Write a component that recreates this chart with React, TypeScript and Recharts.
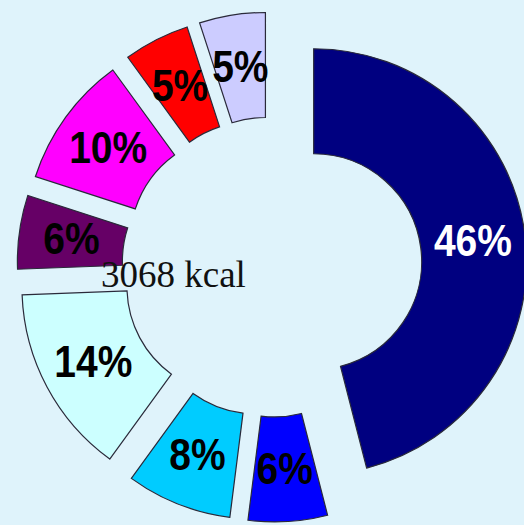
import React from 'react';
import { PieChart, Pie, Cell } from 'recharts';

const categories = ['Segment 1', 'Segment 2', 'Segment 3', 'Segment 4', 'Segment 5', 'Segment 6', 'Segment 7', 'Segment 8'];
const values = [46, 6, 8, 14.4, 5.6, 10, 5, 5];
const colors = ['#000080', '#0000ff', '#00ccff', '#ccffff', '#660066', '#ff00ff', '#ff0000', '#ccccff'];
const labelColors = ['#ffffff', '#000000', '#000000', '#000000', '#000000', '#000000', '#000000', '#000000'];
const centerText = '3068 kcal';

const W = 524;
const H = 525;
const CX = 272;
const CY = 267;
const EXPLODE = 42;
const INNER = 108;
const OUTER = 213;
const RAD = Math.PI / 180;

const data = categories.map((name, i) => ({ name, value: values[i] }));
const total = values.reduce((a, b) => a + b, 0);
const midAngles: number[] = [];
{
  let cum = 0;
  values.forEach((v) => {
    midAngles.push(90 - (360 * (cum + v / 2)) / total);
    cum += v;
  });
}

const makeLabel = (i: number) => (p: any) => {
  if (p.index !== i) return null;
  const r = (p.innerRadius + p.outerRadius) / 2;
  const x = p.cx + r * Math.cos(-p.midAngle * RAD);
  const y = p.cy + r * Math.sin(-p.midAngle * RAD);
  return (
    <text
      transform={`translate(${x},${y}) scale(1,1.12)`}
      x={0}
      y={0}
      textAnchor="middle"
      dominantBaseline="central"
      fill={labelColors[i]}
      fontFamily="'Liberation Sans', Arial, sans-serif"
      fontWeight="bold"
      fontSize={39}
    >
      {`${Math.round(p.percent * 100)}%`}
    </text>
  );
};

export default function App() {
  return (
    <div
      style={{
        position: 'absolute',
        left: 0,
        top: 0,
        width: W,
        height: H,
        background: '#dff3fb',
        overflow: 'hidden',
      }}
    >
      <PieChart width={W} height={H} margin={{ top: 0, right: 0, bottom: 0, left: 0 }}>
        {data.map((_, i) => {
          const a = midAngles[i] * RAD;
          return (
            <Pie
              key={i}
              data={data}
              dataKey="value"
              nameKey="name"
              cx={CX + EXPLODE * Math.cos(a)}
              cy={CY - EXPLODE * Math.sin(a)}
              innerRadius={INNER}
              outerRadius={OUTER}
              startAngle={90}
              endAngle={-270}
              isAnimationActive={false}
              labelLine={false}
              label={makeLabel(i)}
            >
              {data.map((__, j) => (
                <Cell
                  key={j}
                  fill={j === i ? colors[j] : 'none'}
                  stroke={j === i ? '#2a2a3a' : 'none'}
                  strokeWidth={1.2}
                />
              ))}
            </Pie>
          );
        })}
      </PieChart>
      <div
        style={{
          position: 'absolute',
          left: 101,
          top: 256,
          fontFamily: "'Liberation Serif', 'Times New Roman', serif",
          fontSize: 37,
          lineHeight: '37px',
          color: '#111',
          whiteSpace: 'nowrap',
        }}
      >
        {centerText}
      </div>
    </div>
  );
}
